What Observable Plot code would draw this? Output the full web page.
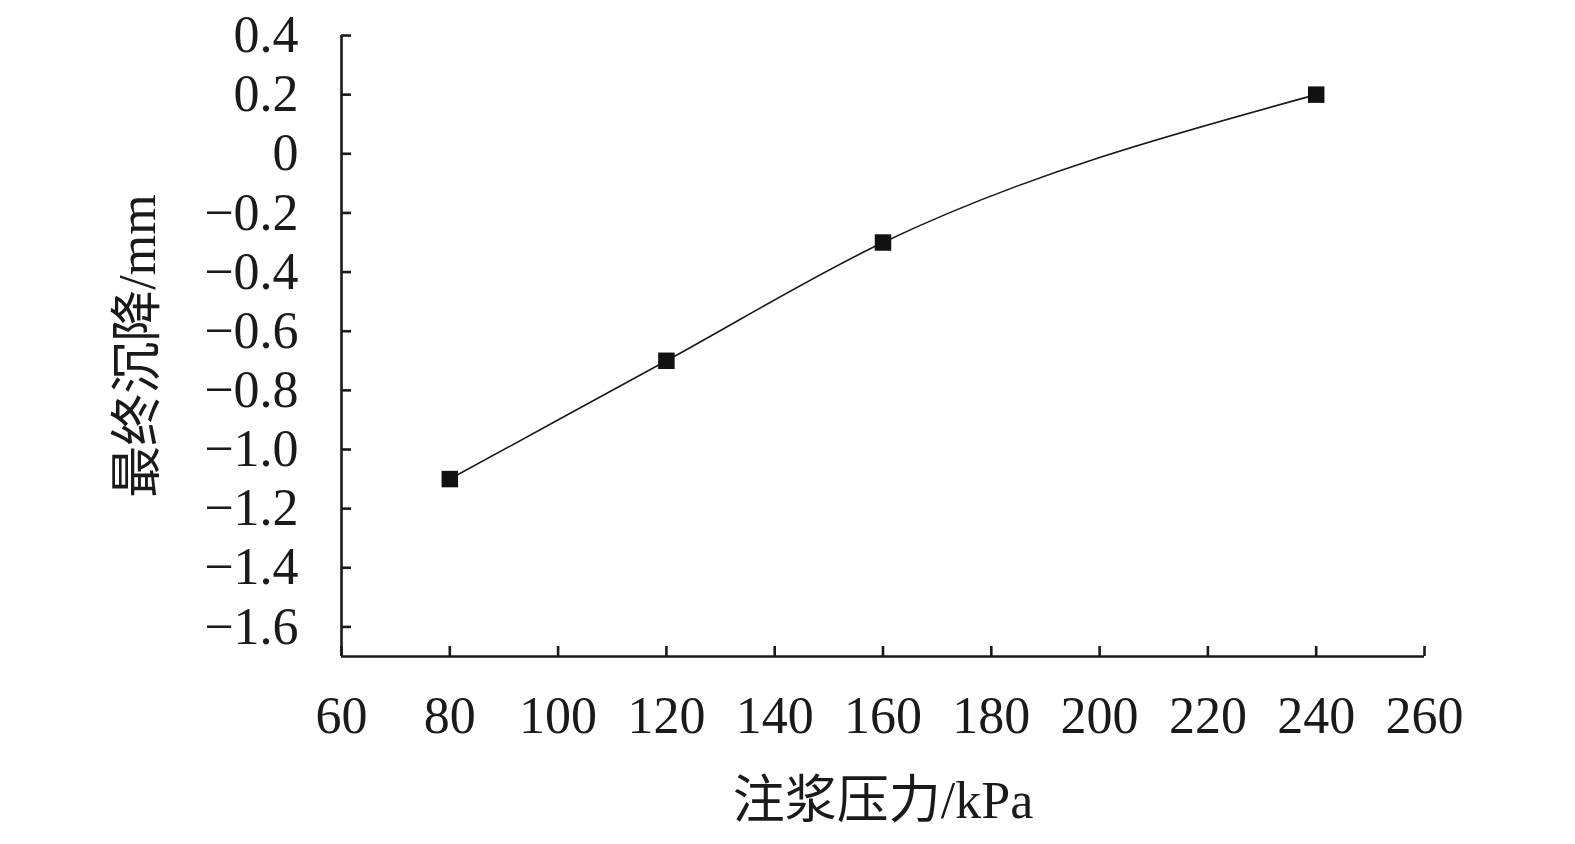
<!DOCTYPE html>
<html>
<head>
<meta charset="utf-8">
<script src="https://cdn.jsdelivr.net/npm/d3@7"></script>
<script src="https://cdn.jsdelivr.net/npm/@observablehq/plot@0.6"></script>
<style>
  html, body { margin: 0; padding: 0; background: #fff; }
  #chart svg { display: block; }
</style>
</head>
<body>
<div id="chart"></div>
<script>
const pressure = [80, 120, 160, 240];
const settlement = [-1.1, -0.7, -0.3, 0.2];
const xTicks = [60, 80, 100, 120, 140, 160, 180, 200, 220, 240, 260];
const yTicks = [0.4, 0.2, 0, -0.2, -0.4, -0.6, -0.8, -1.0, -1.2, -1.4, -1.6];
const yTickLabels = ["0.4", "0.2", "0", "\u22120.2", "\u22120.4", "\u22120.6", "\u22120.8", "\u22121.0", "\u22121.2", "\u22121.4", "\u22121.6"];
const xLabel = "注浆压力/kPa";
const yLabel = "最终沉降/mm";

const data = pressure.map((p, i) => ({p, s: settlement[i]}));
const font = "'Liberation Serif', 'Times New Roman', 'Noto Sans CJK SC', serif";

const chart = Plot.plot({
  width: 1575,
  height: 844,
  marginLeft: 341,
  marginRight: 151,
  marginTop: 35,
  marginBottom: 188,
  style: {fontFamily: font, background: "#fff", color: "#1a1a1a"},
  x: {domain: [60, 260]},
  y: {domain: [-1.7, 0.4]},
  marks: [
    Plot.ruleX([60], {stroke: "#1a1a1a", strokeWidth: 2.6}),
    Plot.ruleY([-1.7], {stroke: "#1a1a1a", strokeWidth: 2.6}),
    Plot.axisX({ticks: xTicks, tickSize: -10, tickPadding: 50, strokeWidth: 2.6, fontSize: 52, label: null, tickFormat: d => String(d)}),
    Plot.axisY({ticks: yTicks, tickSize: -10, tickPadding: 53, strokeWidth: 2.6, fontSize: 52, label: null,
      tickFormat: d => yTickLabels[yTicks.findIndex(t => Math.abs(t - d) < 1e-9)]}),
    Plot.line(data, {x: "p", y: "s", curve: "monotone-x", stroke: "#1a1a1a", strokeWidth: 1.6}),
    Plot.dot(data, {x: "p", y: "s", symbol: "square", r: 9.3, fill: "#111", stroke: "none"}),
    Plot.text([xLabel], {text: d => d, frameAnchor: "bottom", lineAnchor: "middle", textAnchor: "middle", dy: 145, fontSize: 52, fill: "#1a1a1a"}),
    Plot.text([yLabel], {text: d => d, frameAnchor: "left", lineAnchor: "middle", textAnchor: "middle", dx: -203, rotate: -90, fontSize: 52, fill: "#1a1a1a"})
  ]
});
document.getElementById("chart").appendChild(chart);
</script>
</body>
</html>
